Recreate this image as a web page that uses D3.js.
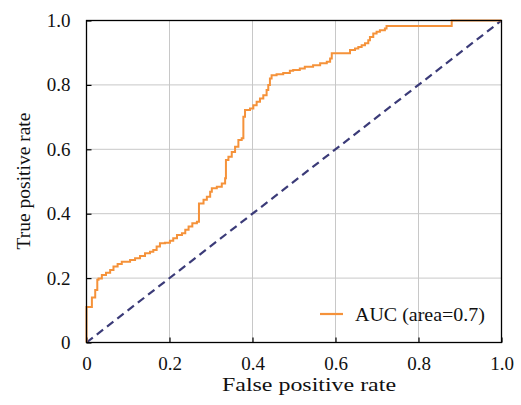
<!DOCTYPE html>
<html>
<head>
<meta charset="utf-8">
<script src="https://cdn.jsdelivr.net/npm/d3@7"></script>
<style>
  html, body { margin: 0; padding: 0; background: #fff; }
  svg { display: block; }
</style>
</head>
<body>
<svg id="chart" width="521" height="405"></svg>
<script>
// ROC curve step points (false positive rate, true positive rate)
const fpr = [0, 0, 0.013, 0.021, 0.026, 0.029, 0.037, 0.047, 0.057, 0.065, 0.075, 0.085, 0.105, 0.117, 0.129,
  0.141, 0.153, 0.161, 0.169, 0.177, 0.189, 0.201, 0.209, 0.218, 0.230, 0.238, 0.246, 0.255, 0.266, 0.271,
  0.282, 0.290, 0.298, 0.302, 0.314, 0.326, 0.334, 0.336, 0.342, 0.350, 0.358, 0.366, 0.374, 0.378, 0.382,
  0.394, 0.402, 0.410, 0.418, 0.426, 0.434, 0.438, 0.442, 0.446, 0.458, 0.474, 0.490, 0.498, 0.514, 0.526,
  0.546, 0.563, 0.579, 0.587, 0.591, 0.635, 0.647, 0.655, 0.663, 0.671, 0.679, 0.683, 0.691, 0.699, 0.707,
  0.719, 0.723, 0.880, 1.0];
const tpr = [0, 0.11, 0.14, 0.163, 0.195, 0.199, 0.21, 0.217, 0.225, 0.236, 0.244, 0.251, 0.256, 0.262, 0.269,
  0.277, 0.282, 0.287, 0.298, 0.308, 0.31, 0.316, 0.324, 0.334, 0.339, 0.35, 0.36, 0.37, 0.375, 0.432,
  0.443, 0.453, 0.468, 0.479, 0.484, 0.494, 0.51, 0.567, 0.577, 0.592, 0.608, 0.629, 0.634, 0.701, 0.722,
  0.727, 0.737, 0.748, 0.758, 0.768, 0.784, 0.80, 0.82, 0.83, 0.833, 0.837, 0.844, 0.846, 0.851, 0.856,
  0.861, 0.867, 0.872, 0.882, 0.898, 0.908, 0.913, 0.918, 0.923, 0.929, 0.939, 0.949, 0.96, 0.965, 0.97,
  0.975, 0.983, 1.0, 1.0];
const chanceX = [0, 1];
const chanceY = [0, 1];
const xTicks = [0, 0.2, 0.4, 0.6, 0.8, 1.0];
const yTicks = [0, 0.2, 0.4, 0.6, 0.8, 1.0];
const tickLabels = ["0", "0.2", "0.4", "0.6", "0.8", "1.0"];
const legendLabel = "AUC (area=0.7)";
const xTitle = "False positive rate";
const yTitle = "True positive rate";

const FONT = "'Liberation Serif', 'Times New Roman', serif";
const svg = d3.select("#chart").style("font-family", FONT);
const L = 86.5, R = 501.5, T = 20.5, B = 342.5;
const x = d3.scaleLinear().domain([0, 1]).range([L, R]);
const y = d3.scaleLinear().domain([0, 1]).range([B, T]);

// grid
const grid = svg.append("g");
grid.selectAll("line.gx").data(xTicks.slice(1, -1)).join("line")
  .attr("x1", d => x(d)).attr("x2", d => x(d)).attr("y1", T).attr("y2", B)
  .attr("stroke", "#c8c8c8").attr("stroke-width", 1);
grid.selectAll("line.gy").data(yTicks.slice(1, -1)).join("line")
  .attr("y1", d => y(d)).attr("y2", d => y(d)).attr("x1", L).attr("x2", R)
  .attr("stroke", "#c8c8c8").attr("stroke-width", 1);

// axes with inward ticks
const xAxis = d3.axisBottom(x).tickValues(xTicks).tickSize(-5).tickPadding(14)
  .tickFormat(d => tickLabels[xTicks.indexOf(d)]);
const yAxis = d3.axisLeft(y).tickValues(yTicks).tickSize(-5).tickPadding(16)
  .tickFormat(d => tickLabels[yTicks.indexOf(d)]);
const gx = svg.append("g").attr("transform", `translate(0,${B})`).call(xAxis);
const gy = svg.append("g").attr("transform", `translate(${L},0)`).call(yAxis);
[gx, gy].forEach(g => {
  g.attr("font-family", null).attr("font-size", null);
  g.select(".domain").remove();
  g.selectAll(".tick line").attr("stroke", "#000").attr("stroke-width", 1.2);
  g.selectAll(".tick text").style("font-family", FONT).style("font-size", "19px").attr("fill", "#111");
});

// chance diagonal
const line = d3.line().x(d => x(d[0])).y(d => y(d[1]));
svg.append("path")
  .datum(chanceX.map((v, i) => [v, chanceY[i]]))
  .attr("d", line).attr("fill", "none")
  .attr("stroke", "#3b3b78").attr("stroke-width", 2.2).attr("stroke-dasharray", "8,5");

// ROC curve
const stepLine = d3.line().x(d => x(d[0])).y(d => y(d[1])).curve(d3.curveStepAfter);
svg.append("path")
  .datum(fpr.map((v, i) => [v, tpr[i]]))
  .attr("d", stepLine).attr("fill", "none")
  .attr("stroke", "#f5923a").attr("stroke-width", 2).attr("stroke-linejoin", "miter");

// frame
svg.append("rect").attr("x", L).attr("y", T).attr("width", R - L).attr("height", B - T)
  .attr("fill", "none").attr("stroke", "#000").attr("stroke-width", 1.3);

// legend
const lg = svg.append("g");
lg.append("line").attr("x1", 320).attr("x2", 343).attr("y1", 314).attr("y2", 314)
  .attr("stroke", "#f5923a").attr("stroke-width", 2.2);
lg.append("text").attr("x", 355).attr("y", 320.5)
  .style("font-family", FONT).style("font-size", "19px").attr("fill", "#111")
  .attr("textLength", 130).attr("lengthAdjust", "spacingAndGlyphs").text(legendLabel);

// axis titles
svg.append("text").attr("x", 222).attr("y", 390.5)
  .style("font-family", FONT).style("font-size", "19px").attr("fill", "#111")
  .attr("textLength", 174).attr("lengthAdjust", "spacingAndGlyphs").text(xTitle);
svg.append("text").attr("transform", "translate(29.5,181) rotate(-90)")
  .attr("text-anchor", "middle")
  .style("font-family", FONT).style("font-size", "19.5px").attr("fill", "#111").text(yTitle);
</script>
</body>
</html>
